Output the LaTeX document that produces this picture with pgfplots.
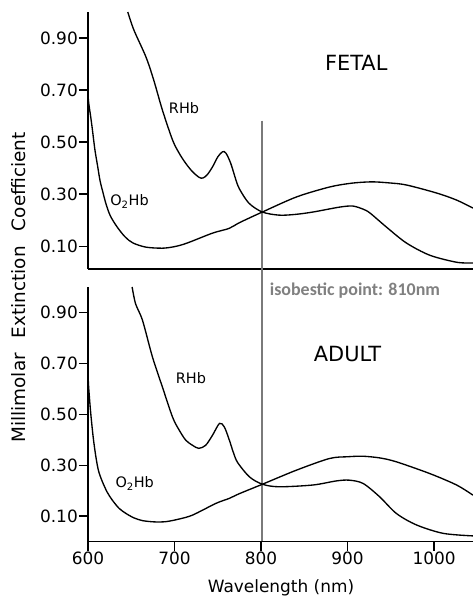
\documentclass[border=0pt]{standalone}
\usepackage{fontspec}
\setmainfont{DejaVu Sans}
\newfontfamily\calibri{Carlito}
\usepackage{pgfplots}
\pgfplotsset{compat=1.18}

\definecolor{isogray}{HTML}{7A7A7A}
\definecolor{labgray}{HTML}{808080}

\pgfplotstableread{
x y
646 1.0
653 0.931
667 0.827
676 0.738
686 0.623
697.7 0.508
705.4 0.457
713 0.418
720.8 0.386
728.6 0.364
733 0.362
738 0.375
744 0.405
750 0.443
755.6 0.463
759.5 0.457
765 0.418
771 0.354
775 0.32
786 0.265
801.5 0.231
821 0.219
840 0.222
860 0.231
891 0.25
906 0.254
918 0.242
926 0.227
945 0.173
968 0.112
995 0.065
1026 0.038
1045 0.035
}\fetalR

\pgfplotstableread{
x y
600 0.72
600.5 0.66
603 0.60
605 0.55
608 0.47
611 0.41
614 0.35
617 0.31
621 0.26
626 0.215
634 0.172
643 0.135
652 0.112
667 0.096
686 0.092
700 0.098
714 0.111
744 0.15
763 0.168
775 0.19
801.5 0.231
841 0.289
879 0.327
905 0.342
928 0.347
948 0.343
968 0.335
1003 0.304
1026 0.277
1045 0.246
}\fetalO

\pgfplotstableread{
x y
651 1.0
655 0.934
663 0.869
674.5 0.725
686 0.607
697.7 0.489
705 0.44
713 0.398
720.8 0.378
728 0.366
736 0.378
744 0.418
752 0.464
757.6 0.45
763.4 0.398
768 0.35
773 0.31
786.6 0.254
801.6 0.225
821 0.215
860 0.222
887 0.238
902 0.241
918 0.228
937 0.176
956.5 0.11
979.7 0.065
1010.6 0.032
1045 0.022
}\adultR

\pgfplotstableread{
x y
600 0.68
600.5 0.62
603 0.51
606 0.41
609 0.335
612 0.28
616 0.24
622 0.195
628 0.163
636 0.13
644 0.11
653 0.093
663 0.082
677 0.077
690 0.078
705 0.088
721 0.104
748 0.15
763 0.169
775 0.188
801.6 0.225
840.7 0.28
879 0.326
900 0.333
918 0.335
938 0.328
956.5 0.313
995 0.267
1026 0.222
1045 0.182
}\adultO

\tikzset{
  isoline/.style={isogray, line width=2bp},
  panel/.style={font=\fontsize{21}{21}\selectfont},
  species/.style={font=\fontsize{14.5}{14.5}\selectfont},
}
\pgfplotsset{
  hb/.style={
    scale only axis, width=385bp, xmin=600, xmax=1045,
    axis x line*=bottom, axis y line*=left,
    axis line style={-, line width=1.3pt},
    tick align=outside, major tick length=9bp,
    tick style={line width=1.2pt, black},
    ytick={0.1,0.3,0.5,0.7,0.9},
    yticklabels={0.10,0.30,0.50,0.70,0.90},
    tick label style={font=\fontsize{17}{17}\selectfont},
    yticklabel style={inner sep=1bp},
    xticklabel style={inner sep=1bp},
    clip=false,
  },
  curve/.style={black, line width=1.35pt, no marks, smooth},
}

\begin{document}
\begin{tikzpicture}
\useasboundingbox (0,0) rectangle (473bp,597bp);
% fetal
\begin{axis}[hb, at={(88bp,328bp)}, anchor=south west,
  height=257bp, ymin=0.012, ymax=1.0, xtick=\empty]
  \draw[isoline] (axis cs:801.5,0.582) -- (axis cs:801.5,-0.06);
  \addplot[curve] table {\fetalR};
  \addplot[curve] table {\fetalO};
  \node[panel] at (axis cs:910,0.804) {FETAL};
  \node[species] at (axis cs:711,0.631) {RHb};
  \node[species] at (axis cs:648,0.272) {O\textsubscript{2}Hb};
\end{axis}
% adult
\begin{axis}[hb, at={(88bp,55.5bp)}, anchor=south west,
  height=254.5bp, ymin=0, ymax=1.0,
  xtick={600,700,800,900,1000},
  xticklabels={600,700,800,900,1000}]
  \draw[isoline] (axis cs:801.5,1.0) -- (axis cs:801.5,0);
  \addplot[curve] table {\adultR};
  \addplot[curve] table {\adultO};
  \node[panel] at (axis cs:900,0.735) {ADULT};
  \node[species] at (axis cs:719,0.641) {RHb};
  \node[species] at (axis cs:654,0.228) {O\textsubscript{2}Hb};
  \node[anchor=west, inner sep=0, text=labgray,
    font=\calibri\bfseries\fontsize{18}{18}\selectfont]
    at (axis cs:810,0.986) {isobestic point: 810nm};
\end{axis}
\node[rotate=90, anchor=base, font=\fontsize{18.5}{18.5}\selectfont]
  at (25bp,309.5bp) {Millimolar\hspace{15bp}Extinction\hspace{15bp}Coefficient};
\node[anchor=base, font=\fontsize{17}{17}\selectfont]
  at (281bp,4.5bp) {Wavelength (nm)};
\end{tikzpicture}
\end{document}
